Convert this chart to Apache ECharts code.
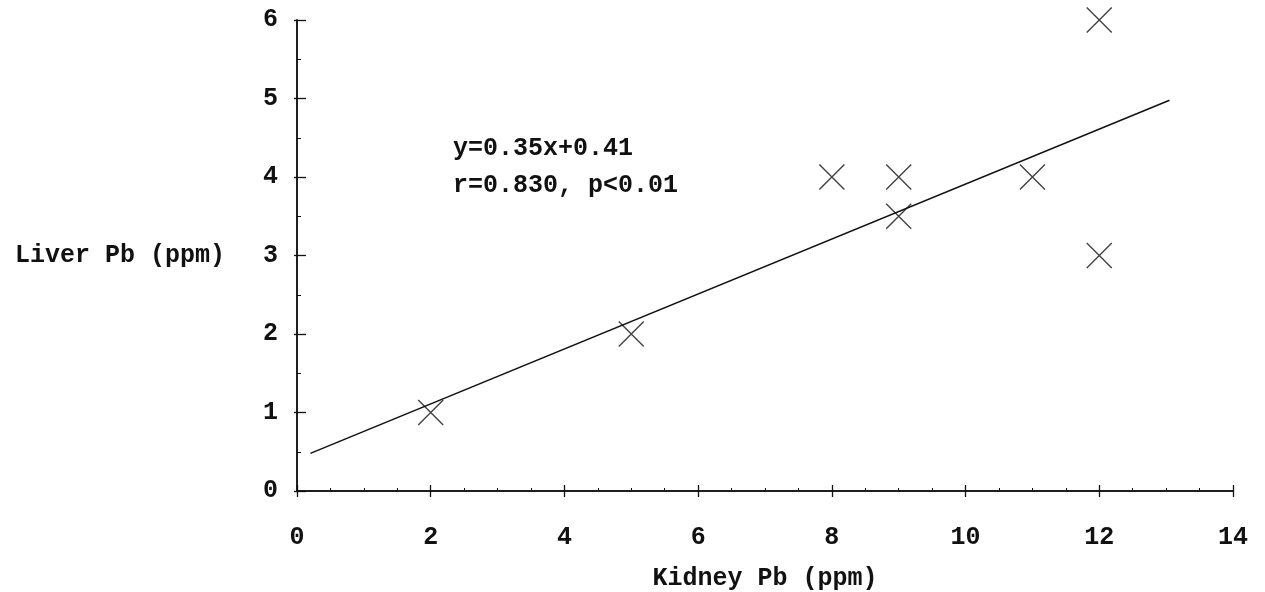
<!DOCTYPE html>
<html>
<head>
<meta charset="utf-8">
<title>Liver Pb vs Kidney Pb</title>
<script src="https://cdn.jsdelivr.net/npm/echarts@6/dist/echarts.min.js"></script>
<style>
  html, body { margin: 0; padding: 0; background: #fff; }
  #chart { width: 1265px; height: 592px; }
</style>
</head>
<body>
<div id="chart"></div>
<script>
// Paired lead concentrations (ppm) per sample
const kidneyPb = [2, 5, 8, 9, 9, 11, 12, 12];
const liverPb = [1, 2, 4, 4, 3.5, 4, 6, 3];

// Fitted regression reported on the chart
const slope = 0.35;
const intercept = 0.41;
const fitRange = [0.2, 13.05];
const fitText = ['y=0.35x+0.41', 'r=0.830, p<0.01'];

const xTicks = { min: 0, max: 14, interval: 2 };
const yTicks = { min: 0, max: 6, interval: 1 };

const FONT = '"Liberation Mono", "Courier New", monospace';
const INK = '#111';

const points = kidneyPb.map((x, i) => [x, liverPb[i]]);
const fitLine = fitRange.map(x => [x, slope * x + intercept]);

const chart = echarts.init(document.getElementById('chart'), null, { renderer: 'canvas' });

const baseX = {
  type: 'value', position: 'bottom', min: xTicks.min, max: xTicks.max, interval: xTicks.interval,
  splitLine: { show: false },
  axisLine: { show: true, onZero: false, lineStyle: { color: INK, width: 1.5 } }
};
const baseY = {
  type: 'value', position: 'left', min: yTicks.min, max: yTicks.max, interval: yTicks.interval,
  splitLine: { show: false },
  axisLine: { show: true, onZero: false, lineStyle: { color: INK, width: 1.5 } }
};

chart.setOption({
  backgroundColor: '#fff',
  animation: false,
  grid: { left: 297, right: 32, top: 20, bottom: 101, containLabel: false, outerBoundsMode: 'none' },
  xAxis: [
    Object.assign({}, baseX, {
      name: 'Kidney Pb (ppm)',
      nameLocation: 'middle',
      nameGap: 75,
      nameTextStyle: { fontFamily: FONT, fontSize: 25, fontWeight: 'bold', color: INK },
      axisTick: { show: true, inside: false, length: 6, lineStyle: { color: INK, width: 1.3 } },
      axisLabel: { margin: 34, fontFamily: FONT, fontSize: 25, fontWeight: 'bold', color: INK }
    }),
    Object.assign({}, baseX, {
      axisTick: { show: true, inside: true, length: 6, lineStyle: { color: INK, width: 1.3 } },
      minorTick: { show: true, splitNumber: 4, length: 3, lineStyle: { color: INK, width: 1 } },
      axisLabel: { show: false }
    })
  ],
  yAxis: [
    Object.assign({}, baseY, {
      name: 'Liver Pb (ppm)',
      nameLocation: 'middle',
      nameRotate: 0,
      nameGap: 72,
      nameTextStyle: { fontFamily: FONT, fontSize: 25, fontWeight: 'bold', color: INK, align: 'right', verticalAlign: 'middle' },
      axisTick: { show: true, inside: false, length: 3, lineStyle: { color: INK, width: 1.3 } },
      axisLabel: { margin: 19, fontFamily: FONT, fontSize: 25, fontWeight: 'bold', color: INK }
    }),
    Object.assign({}, baseY, {
      axisTick: { show: true, inside: true, length: 9, lineStyle: { color: INK, width: 1.3 } },
      minorTick: { show: true, splitNumber: 2, length: 4, lineStyle: { color: INK, width: 1 } },
      axisLabel: { show: false }
    })
  ],
  series: [
    {
      type: 'line',
      data: fitLine,
      xAxisIndex: 0, yAxisIndex: 0,
      showSymbol: false,
      symbol: 'none',
      lineStyle: { color: INK, width: 1.5 },
      silent: true
    },
    {
      type: 'scatter',
      data: points,
      xAxisIndex: 0, yAxisIndex: 0,
      symbol: 'path://M0,0L10,10M10,0L0,10',
      symbolSize: 25,
      itemStyle: { color: 'none', borderColor: INK, borderWidth: 1.4 }
    }
  ],
  graphic: fitText.map((t, i) => ({
    type: 'text',
    left: 453,
    top: 136 + i * 37,
    style: { text: t, fontFamily: FONT, fontSize: 25, fontWeight: 'bold', fill: INK }
  }))
});
</script>
</body>
</html>
